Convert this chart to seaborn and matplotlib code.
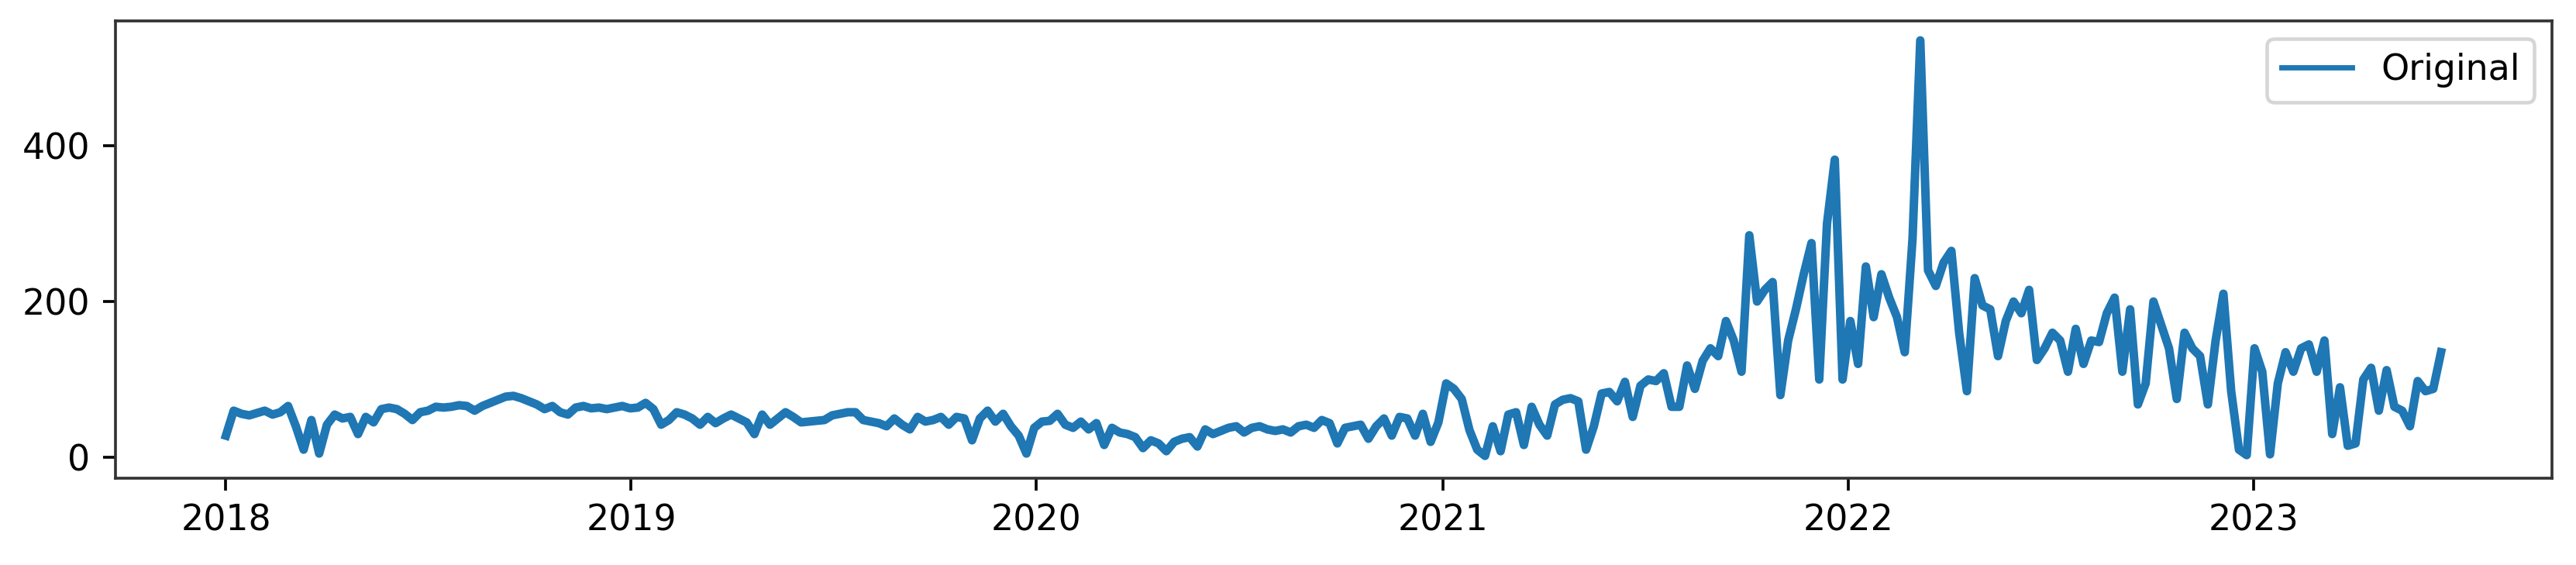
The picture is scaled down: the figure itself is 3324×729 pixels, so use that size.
import numpy as np
import pandas as pd
import matplotlib
matplotlib.use("Agg")
import matplotlib.pyplot as plt
import matplotlib.dates as mdates
import seaborn as sns

# ---- data (weekly readings of the plotted series) ----
start_date = "2018-01-01"
step = "7D"
series_label = "Original"
y_ticks = [0, 200, 400]

part1 = [28, 60, 56, 54, 57, 60, 55, 58, 66, 40, 10, 48, 5, 42, 55, 50, 52, 30,
         52, 45, 62, 64, 62, 56, 48, 58, 60]
part2 = [65, 64, 65, 67, 66, 60, 66, 70, 74, 78, 79, 76, 72, 68, 62, 66, 58, 55,
         64, 66, 63, 64, 62, 64, 66, 63, 64, 70, 62, 42, 48, 58, 55, 50, 42, 52,
         44, 50, 55, 50, 45, 30, 55, 42, 50, 58, 52, 45, 46, 47, 48, 54]
part3 = [56, 58, 58, 48, 46, 44, 40, 50, 42, 36, 52, 46, 48, 52, 42, 52, 50, 22,
         50, 60, 46, 56, 40, 28, 5, 38, 46, 47, 56, 42, 38, 46, 36, 44, 16, 38,
         32, 30, 26, 12, 22, 18, 8, 20, 24, 26, 14, 36, 30, 34, 38, 40, 32, 38,
         40, 36]
part4 = [34, 36, 32, 40, 42, 38, 48, 44, 18, 38, 40, 42, 24, 40, 50, 28, 52, 50,
         28, 56]
part5 = [20, 45, 95, 88, 75, 35, 10, 2, 40, 8, 55, 58, 16, 65, 42, 28, 68, 74,
         76, 72, 10, 40, 82, 84, 72, 97, 52, 92, 100, 98, 108, 65, 65, 118, 88, 124]
part6 = [140, 130, 175, 150, 110, 285, 200, 215, 225, 80, 150, 190, 235, 275, 100,
         300, 382, 100, 175, 120, 245, 180, 235, 205, 180, 135, 280, 535, 240, 220,
         250, 265, 160, 85]
part7 = [230, 195, 190, 130, 175, 200, 185, 215, 125, 140, 160, 150, 110, 165, 120,
         150, 148, 185, 205, 110, 190, 68, 95, 200, 170, 140, 75, 160, 140, 130,
         68, 150, 210, 85]
part8 = [10, 3, 140, 110, 4, 95, 135, 110, 140, 145, 110, 150, 30, 90, 15, 18,
         100, 115, 60, 112, 65, 60, 40, 98, 85, 88, 135]

values = part1 + part2 + part3 + part4 + part5 + part6 + part7 + part8
dates = pd.date_range(start_date, periods=len(values), freq=step)
df = pd.DataFrame({"date": dates, "value": values})

# ---- figure ----
W, H, DPI = 3324, 729, 330
fig = plt.figure(figsize=(W / DPI, H / DPI), dpi=DPI)
ax = fig.add_axes([0.0447, 0.1531, 0.9459, 0.8099])

sns.lineplot(data=df, x="date", y="value", ax=ax, label=series_label,
             color="#1f77b4", linewidth=2.4)

ax.set_ylim(-27, 560)
ax.set_yticks(y_ticks)
ax.xaxis.set_major_locator(mdates.YearLocator())
ax.xaxis.set_major_formatter(mdates.DateFormatter("%Y"))
ax.set_xlabel("")
ax.set_ylabel("")
leg = ax.legend(loc="upper right")
for h in leg.get_lines():
    h.set_linewidth(1.5)
for s in ax.spines.values():
    s.set_color("#333333")

fig.savefig("out.png", dpi=DPI)
